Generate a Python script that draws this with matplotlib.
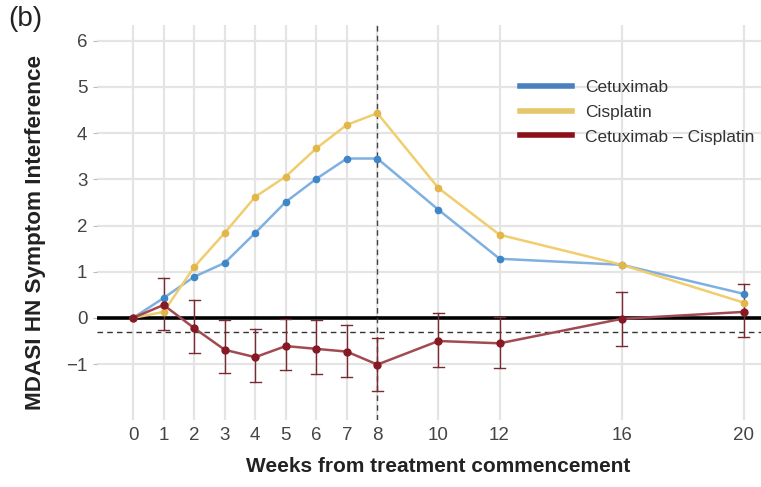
import matplotlib
matplotlib.use("Agg")
import matplotlib.pyplot as plt
from matplotlib.lines import Line2D
import numpy as np

plt.rcParams['font.family'] = ['Liberation Sans', 'DejaVu Sans']

weeks = [0, 1, 2, 3, 4, 5, 6, 7, 8, 10, 12, 16, 20]
cetuximab = [0.0, 0.43, 0.89, 1.19, 1.84, 2.51, 3.01, 3.45, 3.45, 2.34, 1.28, 1.15, 0.52]
cisplatin = [0.0, 0.13, 1.10, 1.84, 2.62, 3.06, 3.67, 4.18, 4.43, 2.81, 1.80, 1.15, 0.33]
difference = [0.0, 0.28, -0.22, -0.69, -0.85, -0.61, -0.67, -0.73, -1.01, -0.50, -0.55, -0.02, 0.13]
diff_lower = [None, -0.26, -0.76, -1.20, -1.39, -1.13, -1.22, -1.28, -1.58, -1.06, -1.09, -0.60, -0.41]
diff_upper = [None, 0.86, 0.39, -0.04, -0.25, -0.02, -0.05, -0.16, -0.43, 0.10, 0.03, 0.56, 0.73]
mid_threshold = -0.3
y_ticks = [-1, 0, 1, 2, 3, 4, 5, 6]
labels = ["Cetuximab", "Cisplatin", "Cetuximab \u2013 Cisplatin"]

c_blue_line = "#7fb0e0"
c_blue_pt = "#3f86c8"
c_yel_line = "#f0cd6e"
c_yel_pt = "#e3b64a"
c_red_line = "#a24a52"
c_red_pt = "#861a24"

W, H = 761, 487
fig = plt.figure(figsize=(W / 100, H / 100), dpi=100)
ax = fig.add_axes([97 / W, 1 - 420 / H, 1 - 97 / W, (420 - 25) / H])
ax.set_xlim(-1.18, 20.56)
ax.set_ylim(-2.21, 6.34)

for s in ax.spines.values():
    s.set_visible(False)
ax.set_xticks(weeks)
ax.set_yticks(y_ticks)
ax.set_yticklabels(["\u22121" if v == -1 else str(v) for v in y_ticks])
ax.grid(True, color="#e4e4e4", linewidth=1.6, zorder=0)
ax.set_axisbelow(True)
ax.tick_params(axis='x', length=0, pad=5, labelsize=13.5, labelcolor="#444444")
ax.tick_params(axis='y', length=3, color="#bbbbbb", pad=4, labelsize=13.5, labelcolor="#444444")

ax.axhline(0, color="black", linewidth=2.6, zorder=2)
ax.axhline(mid_threshold, color="#333333", linewidth=1.0, linestyle=(0, (4, 3)), zorder=2)
ax.axvline(8, color="#444444", linewidth=1.0, linestyle=(0, (4, 3)), zorder=2)

ax.plot(weeks, cetuximab, color=c_blue_line, linewidth=1.8, zorder=3)
ax.plot(weeks, cetuximab, 'o', color=c_blue_pt, markersize=4.5, zorder=4)
ax.plot(weeks, cisplatin, color=c_yel_line, linewidth=1.8, zorder=3)
ax.plot(weeks, cisplatin, 'o', color=c_yel_pt, markersize=4.5, zorder=4)

for w, lo, hi in zip(weeks, diff_lower, diff_upper):
    if lo is None:
        continue
    ax.plot([w, w], [lo, hi], color="#7a2a32", linewidth=1.0, zorder=3)
    ax.plot([w - 0.18, w + 0.18], [lo, lo], color="#7a2a32", linewidth=1.0, zorder=3)
    ax.plot([w - 0.18, w + 0.18], [hi, hi], color="#7a2a32", linewidth=1.0, zorder=3)
ax.plot(weeks, difference, color=c_red_line, linewidth=1.8, zorder=3)
ax.plot(weeks, difference, 'o', color=c_red_pt, markersize=5, zorder=5)

handles = [Line2D([], [], color="#4a7fc0", linewidth=4),
           Line2D([], [], color="#e6c66a", linewidth=4),
           Line2D([], [], color="#8b1018", linewidth=4)]
ax.legend(handles, labels, loc="upper left", bbox_to_anchor=(520 / W, 1 - 80 / H),
          bbox_transform=fig.transFigure, frameon=False, fontsize=12.5, handlelength=3.0,
          handletextpad=0.75, labelspacing=0.55, borderpad=0, borderaxespad=0,
          labelcolor="#333333")

fig.text(438 / W, 1 - 466 / H, "Weeks from treatment commencement", fontsize=15.0,
         fontweight="bold", color="#222222", ha="center", va="center")
fig.text(36 / W, 1 - 232 / H, "MDASI HN Symptom Interference", fontsize=16.2,
         fontweight="bold", color="#222222", ha="center", va="center", rotation=90)
fig.text(8 / W, 1 - 19 / H, "(b)", fontsize=20, va="center", ha="left", color="#222222")

fig.savefig("out.png", dpi=100)
